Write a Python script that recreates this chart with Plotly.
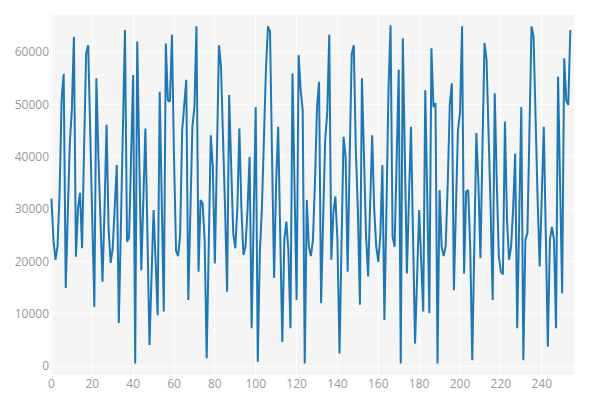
import plotly.graph_objects as go

x_index = list(range(255))
values = [
    32000, 24000, 20300, 23000, 33000, 51000, 55800, 14900, 29000, 42600,
    49000, 62900, 20900, 30000, 33100, 22500, 42000, 59800, 61300, 42000,
    28000, 11300, 55000, 40000, 27000, 16100, 30000, 46100, 26000, 19700,
    22500, 30000, 38400, 8200, 27000, 46000, 64200, 23800, 24500, 40000,
    55600, 500, 62000, 40000, 18300, 32000, 45400, 25000, 4000, 17000,
    29800, 20000, 9700, 52400, 30000, 10400, 61600, 50800, 50500, 63300,
    40000, 22000, 21000, 25000, 45000, 50500, 54700, 12600, 28000, 45700,
    49500, 64900, 18000, 31700, 31100, 24100, 1500, 25000, 44100, 38000,
    19600, 40000, 61300, 57200, 45000, 30000, 14200, 51800, 38000, 25400,
    22500, 30000, 45400, 30000, 21200, 22800, 30000, 40000, 7200, 28000,
    49500, 800, 21500, 29800, 45700, 56600, 64900, 63900, 40000, 16800,
    35000, 45700, 25000, 4600, 24100, 27600, 22000, 7200, 55900, 35000,
    12600, 59400, 52700, 48900, 500, 31700, 22800, 21000, 24000, 35000,
    49500, 54300, 12000, 28000, 43200, 48300, 63300, 20300, 29200, 32400,
    24100, 2400, 25000, 43800, 40000, 18000, 40000, 59700, 61300, 41300,
    30000, 11700, 55000, 40000, 25000, 17100, 30000, 44100, 30000, 22800,
    19900, 25000, 38400, 8800, 30000, 53000, 65100, 24700, 22800, 40000,
    56600, 500, 62600, 40000, 17700, 32000, 45700, 25000, 4300, 17000,
    29800, 20000, 10400, 52700, 30000, 10100, 60700, 49500, 50200, 500,
    33600, 22800, 21000, 23000, 35000, 50000, 54000, 14500, 30000, 45100,
    48300, 64900, 17700, 33300, 33600, 22800, 1100, 25000, 44500, 35000,
    20600, 42000, 61700, 58500, 46000, 30000, 12600, 52100, 35000, 21000,
    18000, 17500, 46700, 28000, 20300, 22800, 30000, 40600, 7200, 28000,
    49500, 1100, 24100, 25400, 45000, 64900, 63000, 44000, 31700, 19000,
    32000, 45700, 25000, 3700, 24100, 26600, 24100, 7200, 55300, 35000,
    13900, 58800, 50800, 49900, 64200,
]

fig = go.Figure(
    go.Scatter(
        x=x_index, y=values, mode="lines",
        line=dict(color="#1f77b4", width=2),
        showlegend=False,
    )
)

axis_common = dict(
    showgrid=True, gridcolor="white", gridwidth=1,
    zeroline=True, zerolinecolor="white", zerolinewidth=1,
    showline=False, ticks="", automargin=False,
    tickfont=dict(family="Open Sans, sans-serif", size=12, color="#999999"),
)

fig.update_layout(
    width=605, height=416,
    margin=dict(l=42, r=39, t=7, b=49),
    paper_bgcolor="white",
    plot_bgcolor="#f5f5f5",
    xaxis=dict(range=[-0.7, 255.8], dtick=20, tick0=0, **axis_common),
    yaxis=dict(range=[-1720, 67070], dtick=10000, tick0=0, tickformat="d", **axis_common),
)

fig.write_html("out.html")
